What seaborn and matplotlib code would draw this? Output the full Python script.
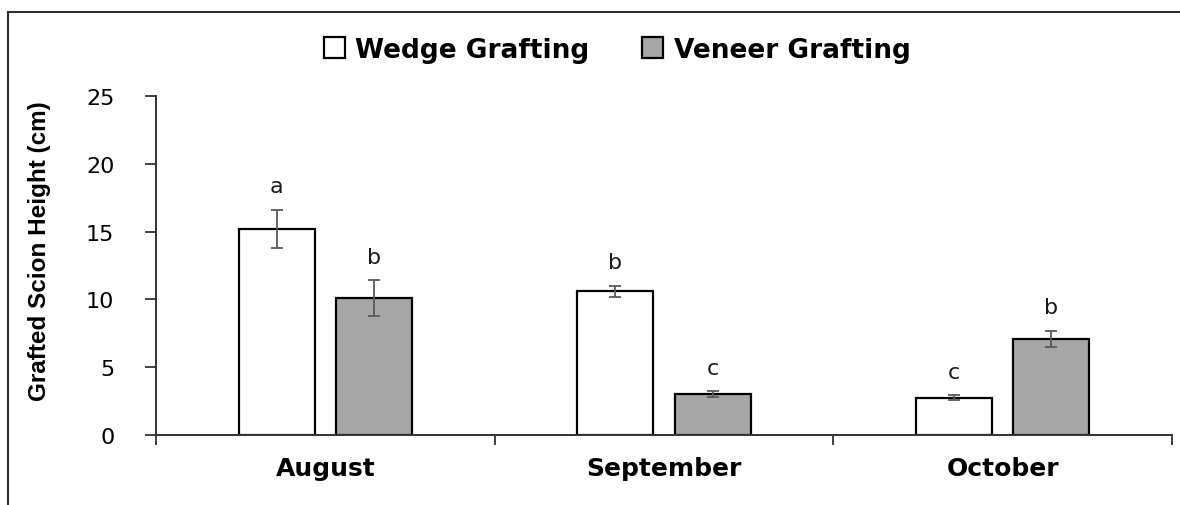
import pandas as pd
import seaborn as sns
import matplotlib.pyplot as plt
from matplotlib.patches import Rectangle

# --- Data ---
months = ["August", "September", "October"]
methods = ["Wedge Grafting", "Veneer Grafting"]
wedge = [15.2, 10.6, 2.75]
veneer = [10.1, 3.0, 7.1]
wedge_se = [1.4, 0.4, 0.17]
veneer_se = [1.3, 0.22, 0.6]
wedge_letters = ["a", "b", "c"]
veneer_letters = ["b", "c", "b"]
y_ticks = [0, 5, 10, 15, 20, 25]

df = pd.DataFrame({
    "Month": months * 2,
    "Method": [methods[0]] * 3 + [methods[1]] * 3,
    "Height": wedge + veneer,
})

sns.set_theme(style="white")
plt.rcParams["font.family"] = ["DejaVu Sans"]
plt.rcParams.update({"text.color": "black", "axes.labelcolor": "black",
                     "xtick.color": "black", "ytick.color": "black"})

fig = plt.figure(figsize=(11.8, 5.06), dpi=100)
ax = fig.add_axes([156 / 1180, 1 - 436 / 506, (1172 - 156) / 1180, (436 - 97) / 506])

sns.barplot(data=df, x="Month", y="Height", hue="Method", hue_order=methods,
            palette={methods[0]: "white", methods[1]: "#a6a6a6"},
            edgecolor="black", linewidth=1.6, width=0.576, gap=0.22,
            errorbar=None, legend=False, ax=ax)
bar_groups = list(ax.containers)

# --- Error bars and significance letters ---
for cont, se, letters in zip(bar_groups, [wedge_se, veneer_se], [wedge_letters, veneer_letters]):
    xs = [p.get_x() + p.get_width() / 2 for p in cont.patches]
    hs = [p.get_height() for p in cont.patches]
    ax.errorbar(xs, hs, yerr=se, fmt="none", ecolor="#5a5a5a",
                elinewidth=1.3, capsize=4.5, capthick=1.3)
    for x, h, e, lab in zip(xs, hs, se, letters):
        ax.text(x, h + e + 1.75, lab, ha="center", va="center", fontsize=16, color="#1a1a1a")

# --- Axes styling ---
ax.set_xlim(-0.5, 2.5)
ax.set_ylim(0, 25)
ax.set_yticks(y_ticks)
ax.tick_params(axis="y", length=8, width=1.3, color="#333333", pad=22, labelsize=16, left=True)
ax.set_xticks([-0.5, 0.5, 1.5, 2.5])
ax.set_xticklabels([])
ax.tick_params(axis="x", which="major", length=7, width=1.3, color="#333333", bottom=True)
ax.set_xticks([0, 1, 2], minor=True)
ax.set_xticklabels(months, minor=True, fontweight="bold", fontsize=18)
ax.tick_params(axis="x", which="minor", length=0, pad=15)
ax.set_xlabel("")
sns.despine(ax=ax)
for s in ["left", "bottom"]:
    ax.spines[s].set_color("#333333")
    ax.spines[s].set_linewidth(1.4)

ax.set_ylabel("Grafted Scion Height (cm)", fontsize=17.5, fontweight="bold",
              family=["Liberation Sans", "DejaVu Sans"])
ax.yaxis.set_label_coords(-0.103, 0.546)

# --- Legend ---
handles = [c.patches[0] for c in bar_groups]
fig.legend(handles, methods, loc="center", bbox_to_anchor=(0.523, 0.90), ncol=2,
           frameon=False, prop={"weight": "bold", "size": 19},
           handlelength=0.8, handleheight=0.8, columnspacing=2.0, handletextpad=0.4)

# --- Outer frame (top and left visible) ---
fig.add_artist(Rectangle((8 / 1180, -0.1), 1.2, 1 - 13 / 506 + 0.1, transform=fig.transFigure,
                         fill=False, edgecolor="#303030", linewidth=1.5))

plt.savefig("out.png", dpi=100)
plt.close()
